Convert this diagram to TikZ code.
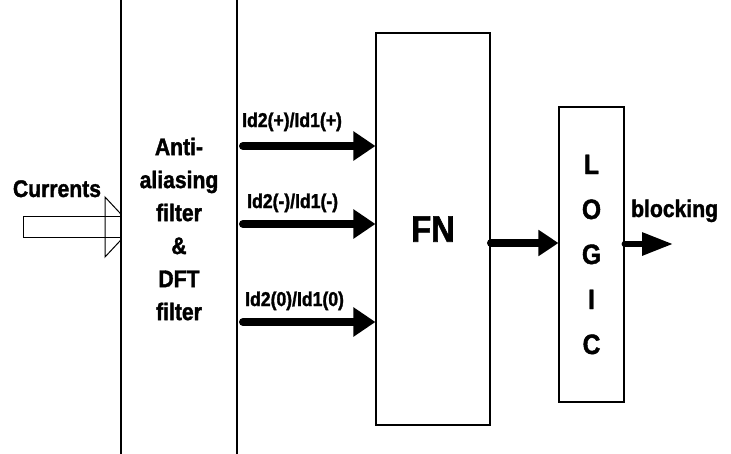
\documentclass[tikz,border=0pt]{standalone}
\usepackage{fontspec}
\setmainfont{Liberation Sans}[FakeStretch=0.88, BoldFeatures={FakeBold=1.5}]
\usetikzlibrary{arrows.meta}

\begin{document}
\begin{tikzpicture}[x=1pt, y=-1pt,
	block/.style={draw, line width=1.1pt, fill=white, inner sep=0pt},
	label/.style={font=\bfseries\fontsize{20}{24}\selectfont, inner sep=0pt},
	fat/.style={line width=8pt, line cap=round, -{Triangle[length=22pt, width=28pt]}}]
	\clip (0,0) rectangle (731,453);
	\fill[white] (0,0) rectangle (731,453);

	% hollow input arrow, its head runs under the filter box
	\coordinate (cin) at (23,216);
	\draw[line width=1pt] (cin) rectangle (121,237);
	\draw[line width=1pt] (105,197) -- (133,227) -- (105,257) -- cycle;

	\node[block, minimum width=116pt, minimum height=490pt, align=center,
		font=\bfseries\fontsize{24}{33}\selectfont] (filt) at (179,229)
		{Anti-\\aliasing\\filter\\\&\\DFT\\filter};
	\node[label, font=\bfseries\fontsize{24}{28}\selectfont, anchor=base] (cur) at (57,197) {Currents};

	\node[block, minimum width=114pt, minimum height=392pt,
		font=\bfseries\fontsize{37}{40}\selectfont] (fn) at (433,229) {FN};
	\node[block, minimum width=65pt, minimum height=295pt, align=center,
		font=\bfseries\fontsize{28}{45}\selectfont] (logic) at (591.5,254.5) {L\\O\\G\\I\\C};

	% sequence components
	\coordinate (p1) at (243,146);
	\coordinate (p2) at (243,224);
	\coordinate (p3) at (243,322);
	\draw[fat] (p1) -- (p1 -| fn.west);
	\draw[fat] (p2) -- (p2 -| fn.west);
	\draw[fat] (p3) -- (p3 -| fn.west);
	\node[label, anchor=base west] (l1) at (242,127) {Id2(+)/Id1(+)};
	\node[label, anchor=base west] (l2) at (247,208) {Id2(-)/Id1(-)};
	\node[label, anchor=base west] (l3) at (245,306) {Id2(0)/Id1(0)};

	\coordinate (q) at (491,243);
	\draw[line width=8pt, line cap=round, -{Triangle[length=20pt, width=25pt]}] (q) -- (q -| logic.west);

	\coordinate (out) at (673,244);
	\draw[line width=6pt, line cap=round, -{Triangle[length=31pt, width=22pt]}] (logic.east |- out) -- (out);
	\node[label, font=\bfseries\fontsize{24}{28}\selectfont, anchor=base west] (blk) at (631,217) {blocking};
\end{tikzpicture}
\end{document}
